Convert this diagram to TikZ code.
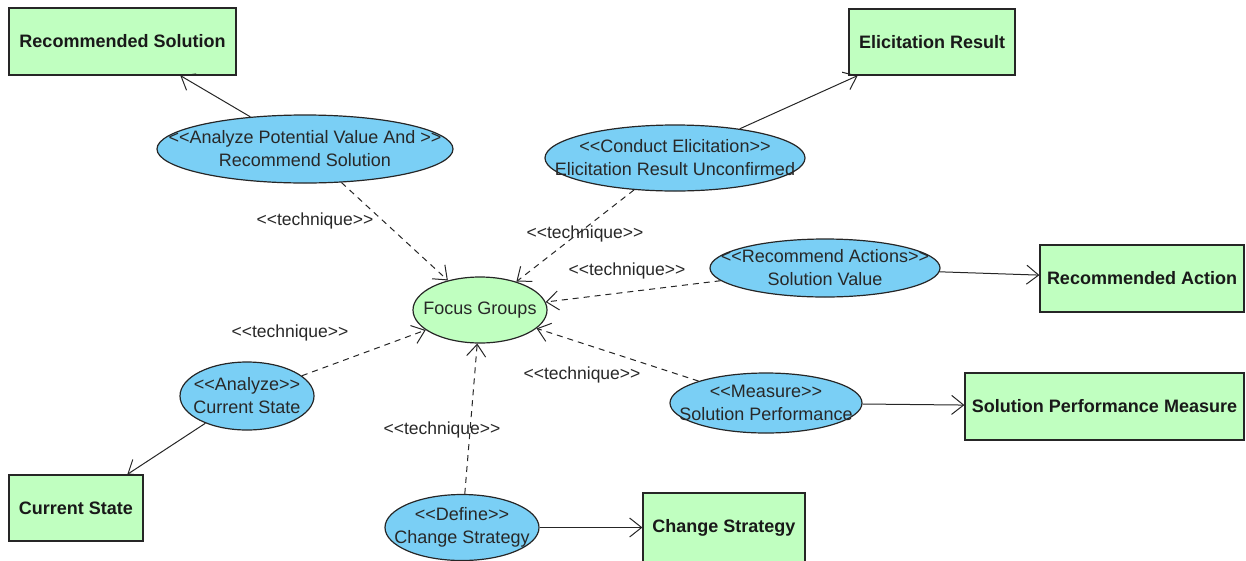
\documentclass[tikz,border=0pt]{standalone}
\usepackage{fontspec}
\setmainfont{Liberation Sans}
\usetikzlibrary{shapes.geometric,arrows.meta}
\definecolor{artgreen}{RGB}{192,255,192}
\definecolor{caseblue}{RGB}{122,207,245}
\definecolor{inkgray}{RGB}{40,40,40}
% guillemet-like stereotype brackets kept as two separate characters
\newcommand{\stl}{<\kern0pt<}
\newcommand{\str}{>\kern0pt>}
\begin{document}
\begin{tikzpicture}[x=1pt,y=-1pt,
  artifact/.style={draw=black!85,fill=artgreen,line width=1.2pt,inner sep=0pt,
    text=black!90,font=\fontsize{18}{22}\selectfont\bfseries},
  usecase/.style={ellipse,draw=black!85,fill=caseblue,line width=1.2pt,inner sep=0pt},
  casetext/.style={align=center,inner sep=0pt,text=inkgray,font=\fontsize{18}{23}\selectfont},
  techlabel/.style={inner sep=1pt,text=inkgray,font=\fontsize{17.5}{21}\selectfont},
  produces/.style={draw=black!85,line width=1pt,-{Straight Barb[length=12pt,width=19pt,line width=1pt]}},
  usestech/.style={draw=black!85,line width=1pt,dash pattern=on 6pt off 5pt,
    -{Straight Barb[length=12pt,width=19pt,line width=1pt]}}]
\useasboundingbox (0,0) rectangle (1246,560);

% output artifacts
\node[artifact,minimum width=227,minimum height=67] (recsol) at (122.5,41.5) {Recommended Solution};
\node[artifact,minimum width=166,minimum height=66] (elres) at (932,42) {Elicitation Result};
\node[artifact,minimum width=204,minimum height=67] (recact) at (1142,278.5) {Recommended Action};
\node[artifact,minimum width=279,minimum height=67] (spm) at (1104.5,406.5) {Solution Performance Measure};
\node[artifact,minimum width=134,minimum height=66] (curst) at (76,508) {Current State};
\node[artifact,minimum width=162,minimum height=69] (chst) at (724,527.5) {Change Strategy};

% tasks
\node[usecase,minimum width=296,minimum height=68,
  label={[casetext]center:\stl Analyze Potential Value And \str\\Recommend Solution}] (apv) at (305,149) {};
\node[usecase,minimum width=260,minimum height=66,
  label={[casetext]center:\stl Conduct Elicitation\str\\Elicitation Result Unconfirmed}] (cond) at (675,158) {};
\node[usecase,minimum width=230,minimum height=58,
  label={[casetext]center:\stl Recommend Actions\str\\Solution Value}] (reca) at (825,268) {};
\node[usecase,minimum width=134,minimum height=68,
  label={[casetext]center:\stl Analyze\str\\Current State}] (anc) at (247,396) {};
\node[usecase,minimum width=192,minimum height=60,
  label={[casetext]center:\stl Measure\str\\Solution Performance}] (meas) at (766,403) {};
\node[usecase,minimum width=154,minimum height=66,
  label={[casetext]center:\stl Define\str\\Change Strategy}] (def) at (462,527.5) {};

% technique
\node[usecase,fill=artgreen,minimum width=134,minimum height=66,
  label={[casetext]center:Focus Groups}] (fg) at (480,310) {};

% task outputs
\draw[produces] (apv) -- (recsol);
\draw[produces] (cond) -- (elres);
\draw[produces] (reca) -- (recact);
\draw[produces] (meas) -- (spm);
\draw[produces] (anc) -- (curst);
\draw[produces] (def) -- (chst);

% technique dependencies
\draw[usestech] (apv) -- (fg);
\draw[usestech] (cond) -- (fg);
\draw[usestech] (reca) -- (fg);
\draw[usestech] (meas) -- (fg);
\draw[usestech] (anc) -- (fg);
\draw[usestech] (def) -- (fg);

\node[techlabel] (t1) at (315,221) {\stl technique\str};
\node[techlabel] (t2) at (585,234) {\stl technique\str};
\node[techlabel] (t3) at (627,271) {\stl technique\str};
\node[techlabel] (t4) at (290,333) {\stl technique\str};
\node[techlabel] (t5) at (582,375) {\stl technique\str};
\node[techlabel] (t6) at (442,430) {\stl technique\str};
\end{tikzpicture}
\end{document}
